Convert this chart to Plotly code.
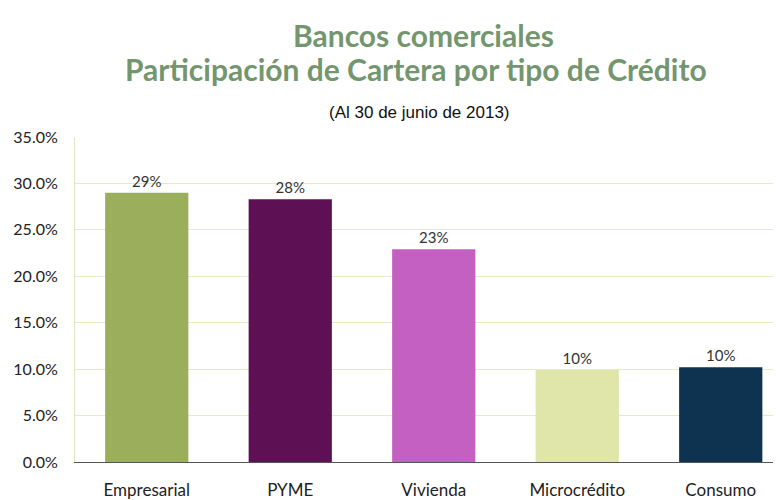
import plotly.graph_objects as go

categories = ["Empresarial", "PYME", "Vivienda", "Microcrédito", "Consumo"]
values = [29.0, 28.3, 22.9, 9.9, 10.2]
labels = ["29%", "28%", "23%", "10%", "10%"]
colors = ["#9aae5b", "#5e1054", "#c460c1", "#e0e5a9", "#0e3350"]
y_ticks = [0, 5, 10, 15, 20, 25, 30, 35]
y_tick_text = ["0.0%", "5.0%", "10.0%", "15.0%", "20.0%", "25.0%", "30.0%", "35.0%"]

# page body has an 8px default margin, so figure is 8px smaller and offset
W, H = 773, 492
L, T, B = 67, 129, 32
PW, PH = W - L, H - T - B


def px(xs):
    return (xs - 8 - L) / PW


def py(ys):
    return 1 + (T - (ys - 8)) / PH


fig = go.Figure(go.Bar(
    x=categories, y=values, text=labels, textposition="outside",
    marker=dict(color=colors, line=dict(width=0)),
    textfont=dict(family="Lato", size=15, color="#333333"),
    cliponaxis=False,
))

fig.update_layout(
    width=W, height=H,
    margin=dict(l=L, r=0, t=T, b=B),
    paper_bgcolor="white", plot_bgcolor="white",
    bargap=0.42, showlegend=False,
    annotations=[
        dict(text="<b>Bancos comerciales</b>", xref="paper", yref="paper",
             x=px(423), y=py(33), xanchor="center", yanchor="middle",
             showarrow=False, font=dict(family="Lato", size=30, color="#74966f")),
        dict(text="<b>Participación de Cartera por tipo de Crédito</b>", xref="paper", yref="paper",
             x=px(416), y=py(68), xanchor="center", yanchor="middle",
             showarrow=False, font=dict(family="Lato", size=30, color="#74966f")),
        dict(text="(Al 30 de junio de 2013)", xref="paper", yref="paper",
             x=px(419), y=py(112), xanchor="center", yanchor="middle",
             showarrow=False, font=dict(family="Liberation Sans Narrow, Liberation Sans, Arial", size=17, color="#111111")),
    ],
)

fig.update_xaxes(
    range=[-0.5, 4.42], showgrid=False, showline=True, linecolor="#555555", linewidth=1,
    ticks="", ticklabelstandoff=13,
    tickfont=dict(family="Lato", size=17, color="#222222"),
)
fig.update_yaxes(
    range=[0, 35], tickvals=y_ticks, ticktext=y_tick_text,
    showgrid=True, gridcolor="#e6ebc6", gridwidth=1,
    showline=True, linecolor="#dde6c0", linewidth=1, zeroline=False,
    ticks="", ticklabelstandoff=13,
    tickfont=dict(family="Lato", size=16, color="#222222"),
)

fig.write_html("out.html")
